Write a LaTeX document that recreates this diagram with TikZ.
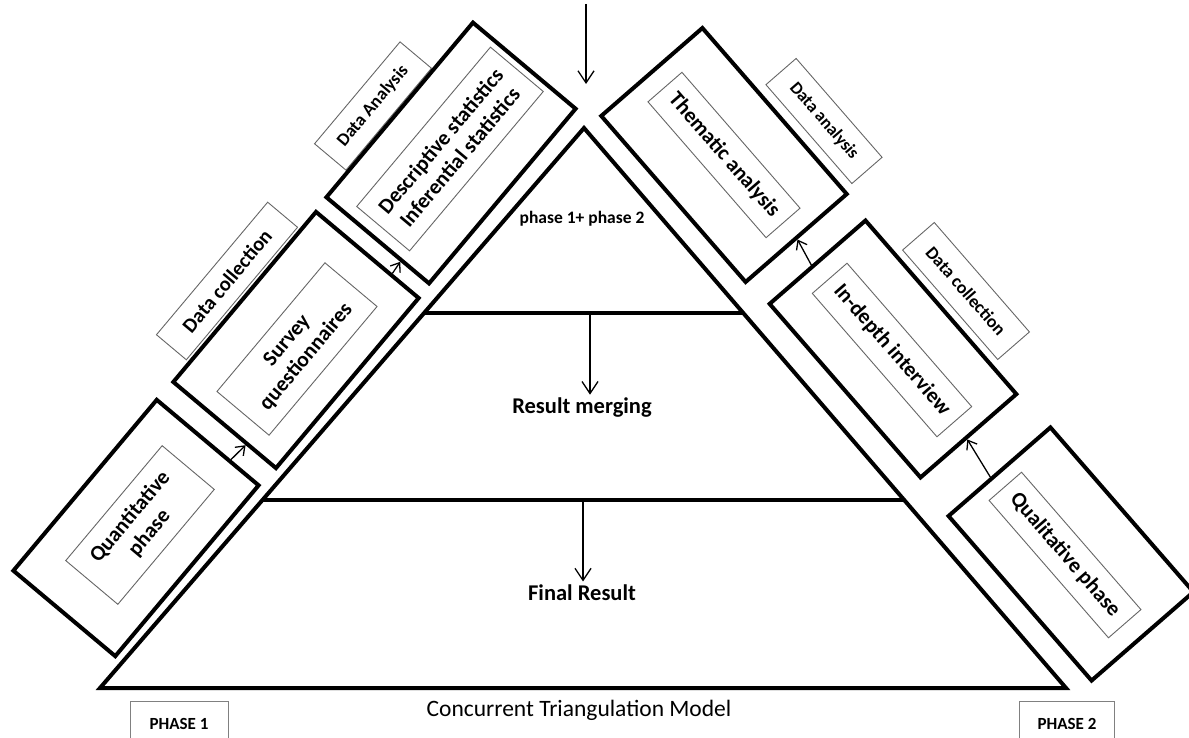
\documentclass[tikz,border=0pt]{standalone}
\usepackage{fontspec}
\setmainfont{Carlito}
\usepackage{tikz}
\usetikzlibrary{positioning, calc, arrows.meta}

\begin{document}
\begin{tikzpicture}[x=1pt,y=-1pt,
        tri/.style={draw=black,line width=4pt},
        bigbox/.style={draw=black,line width=4pt,fill=white,inner sep=0pt},
        textbox/.style={draw=black!60,line width=0.9pt,inner sep=0pt,align=center,
            font=\bfseries\fontsize{21.5}{25}\selectfont},
        tagbox/.style={draw=black!60,line width=0.9pt,inner sep=0pt,
            font=\bfseries\fontsize{18}{22}\selectfont},
        phasebox/.style={draw=black!50,line width=0.9pt,inner sep=0pt,
            font=\bfseries\fontsize{17}{20}\selectfont},
        arr/.style={-{Straight Barb[length=12pt,width=16pt]},line width=1.3pt},
        arrs/.style={-{Straight Barb[length=8pt,width=12pt]},line width=1.3pt}]

        \useasboundingbox (0,0) rectangle (1189,738);
        \clip (0,0) rectangle (1189,738);

        % pyramid
        \coordinate (apex) at (584,128);
        \coordinate (bl) at (100,688);
        \coordinate (br) at (1066,688);
        \coordinate (l1a) at ($(apex)!0.33!(bl)$);
        \coordinate (l1b) at ($(apex)!0.33!(br)$);
        \coordinate (l2a) at ($(apex)!0.664!(bl)$);
        \coordinate (l2b) at ($(apex)!0.664!(br)$);
        \draw[tri] (apex) -- (bl) -- (br) -- cycle;
        \draw[tri] (l1a) -- (l1b);
        \draw[tri] (l2a) -- (l2b);

        \node[font=\bfseries\fontsize{17.5}{20}\selectfont] (sum) at (582,219) {phase 1+ phase 2};
        \node[font=\bfseries\fontsize{22.5}{26}\selectfont] (merge) at (582,408) {Result merging};
        \node[font=\bfseries\fontsize{22.5}{26}\selectfont] (final) at (582,593) {Final Result};
        \node[font=\fontsize{23.5}{28}\selectfont] (model) at (579,710) {Concurrent Triangulation Model};

        % phase 1 side
        \node[tagbox,rotate=50,minimum width=173pt,minimum height=39pt,
              font=\bfseries\fontsize{20.5}{24}\selectfont] (dcl) at (227,281) {Data collection};
        \node[tagbox,rotate=50,minimum width=133pt,minimum height=41pt] (dal) at (373,106) {Data Analysis};

        \node[bigbox,rotate=50,minimum width=223pt,minimum height=133pt] (quant)  at (136,528) {};
        \node[bigbox,rotate=50,minimum width=222pt,minimum height=134pt] (survey) at (296,340) {};
        \node[bigbox,rotate=50,minimum width=228pt,minimum height=134pt] (desc)   at (451,153) {};

        \node[textbox,rotate=50,minimum width=150pt,minimum height=68pt] (quanttxt)  at (140,525) {Quantitative\\phase};
        \node[textbox,rotate=50,minimum width=168pt,minimum height=68pt] (surveytxt) at (297,349) {Survey\\questionnaires};
        \node[textbox,rotate=50,minimum width=208pt,minimum height=69pt] (desctxt)   at (450,149) {Descriptive statistics\\Inferential statistics};

        % phase 2 side
        \node[tagbox,rotate=-49,minimum width=131pt,minimum height=40pt,
              font=\bfseries\fontsize{17.5}{21}\selectfont] (dar) at (824,121) {Data analysis};
        \node[tagbox,rotate=-49,minimum width=145pt,minimum height=42pt] (dcr) at (966,291) {Data collection};

        \node[bigbox,rotate=-49,minimum width=220pt,minimum height=134pt] (thematic) at (724,155) {};
        \node[bigbox,rotate=-49,minimum width=230pt,minimum height=127pt] (indepth)  at (893,349) {};
        \node[bigbox,rotate=-49,minimum width=218pt,minimum height=135pt] (qual)     at (1071,554) {};

        \node[textbox,rotate=-49,minimum width=180pt,minimum height=45pt] (thematictxt) at (724,155) {Thematic analysis};
        \node[textbox,rotate=-49,minimum width=190pt,minimum height=46pt] (indepthtxt)  at (892,350) {In-depth interview};
        \node[textbox,rotate=-49,minimum width=182pt,minimum height=43pt] (qualtxt)     at (1065,555) {Qualitative phase};

        \node[phasebox,minimum width=98pt,minimum height=46pt,anchor=north] (p1) at (179,701) {PHASE 1};
        \node[phasebox,minimum width=95pt,minimum height=46pt,anchor=north] (p2) at (1067,701) {PHASE 2};

        % arrows
        \coordinate (tin) at (586,4);
        \coordinate (m1) at (590,313);
        \coordinate (m2) at (583,500);
        \draw[arr] (tin) -- (tin |- apex) [shorten >=44pt];
        \draw[arr] (m1) -- (m1 |- merge.north);
        \draw[arr] (m2) -- (m2 |- final.north);

        \draw[arrs] ($(quant.east)!0.42!(quant.south east)$) -- ($(survey.west)!0.42!(survey.south west)$);
        \draw[arrs] ($(survey.east)!0.45!(survey.south east)$) -- ($(desc.west)!0.45!(desc.south west)$);
        \draw[arrs] ($(qual.west)!0.15!(qual.south west)$) -- ($(indepth.east)!0.05!(indepth.south east)$);
        \draw[arrs] ($(indepth.west)!0.1!(indepth.south west)$) -- (thematic.east);
    \end{tikzpicture}
\end{document}
